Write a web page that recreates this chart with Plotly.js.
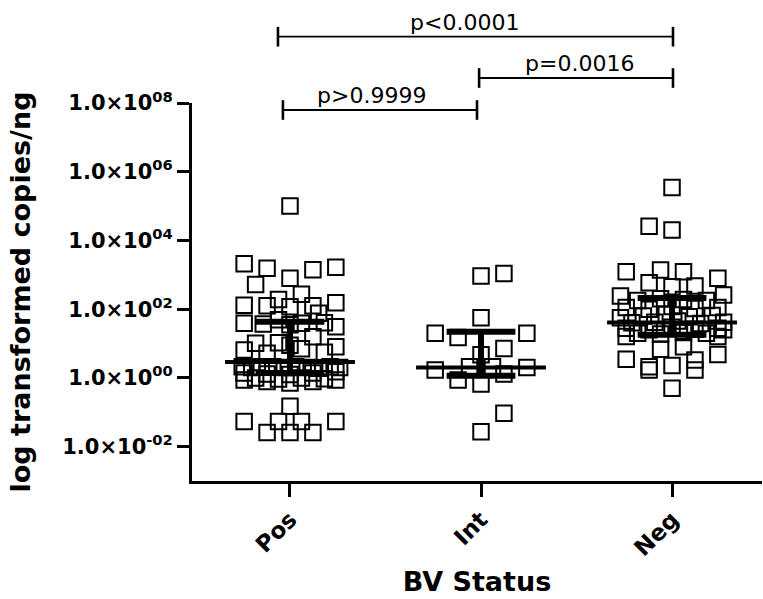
<!DOCTYPE html>
<html>
<head>
<meta charset="utf-8">
<script src="https://cdn.plot.ly/plotly-3.0.1.min.js"></script>
<style>html,body{margin:0;padding:0;background:#fff;}#chart{width:763px;height:599px;}</style>
</head>
<body>
<div id="chart"></div>
<script>
// ---- data ----
const groups = ['Pos', 'Int', 'Neg'];

// Pos: copies/ng and horizontal scatter offsets (category units)
const posValues = [1.0e5,
  2100, 1550, 1650, 1400, 800, 520, 270, 190,
  130, 125, 155, 125, 118, 76,
  39, 31, 37, 49, 39, 35, 40,
  10.2, 10.5, 15.8, 6.5, 8.1, 5.2, 8.9, 7.1, 5.6,
  2.1, 2.0, 2.1, 2.1, 2.0, 2.1, 2.0, 1.9, 2.1, 2.0,
  1.4, 1.3, 1.26, 1.4, 1.5,
  0.87, 0.79, 0.71, 0.79, 0.87, 1.0, 1.0, 0.95, 0.93,
  0.15, 0.054, 0.054, 0.054, 0.054, 0.026, 0.026, 0.026];
const posOffsets = [0,
  -0.24, -0.12, 0.24, 0.12, 0, -0.18, 0.06, -0.06,
  -0.24, -0.12, 0.24, 0.12, 0, 0.15,
  -0.24, 0.24, -0.14, -0.06, 0.06, 0, 0.18,
  -0.18, -0.06, 0.12, -0.24, 0.24, -0.12, 0, 0.06, 0.18,
  -0.25, -0.20, -0.15, -0.09, -0.03, 0.03, 0.09, 0.15, 0.21, 0.26,
  -0.24, -0.12, 0, 0.12, 0.24,
  -0.24, -0.12, 0, 0.12, 0.24, -0.18, 0.06, 0.18, -0.06,
  0, -0.06, 0.06, -0.24, 0.24, -0.12, 0, 0.12];

const intValues = [930, 1100, 56, 20, 15, 20, 7.2, 4.7, 1.7, 2.1, 2.1, 2.0, 0.87, 0.66, 1.3, 0.093, 0.027];
const intOffsets = [0, 0.12, 0, -0.24, -0.12, 0.24, 0.12, 0, -0.24, -0.06, 0.06, 0.24, -0.12, 0, 0.12, 0.12, 0];

const negValues = [3.5e5, 26000, 20000,
  1230, 1380, 1230, 800, 590, 450, 470, 240, 260,
  180, 200, 190, 180,
  112, 100, 120, 105, 112,
  56, 63, 71, 60, 66,
  40, 42, 45, 38, 42,
  28, 25, 30, 26, 28,
  20, 19, 21, 20,
  16, 16, 25,
  6.8, 8.1,
  3.5, 2.1, 1.7, 2.3, 3.3, 1.7, 4.8,
  0.5];
const negOffsets = [0, -0.12, 0,
  -0.24, -0.06, 0.06, 0.24, -0.12, 0, 0.12, -0.27, 0.27,
  -0.18, -0.06, 0.06, 0.18,
  -0.24, -0.12, 0, 0.12, 0.24,
  -0.27, -0.15, -0.03, 0.09, 0.21,
  -0.21, -0.09, 0.03, 0.15, 0.27,
  -0.24, -0.12, 0, 0.12, 0.24,
  -0.18, -0.06, 0.06, 0.18,
  -0.24, 0.24, 0.27,
  -0.06, 0.06,
  -0.24, -0.12, -0.12, 0, 0.12, 0.12, 0.24,
  0];

// summary: median and interquartile range
const medians = [2.9, 2.0, 41];
const q1s = [1.4, 1.15, 18];
const q3s = [43, 22, 210];

const yTickVals = [0.01, 1, 100, 1e4, 1e6, 1e8];
const yTickText = ['1.0×10<sup>-02</sup>', '1.0×10<sup>00</sup>', '1.0×10<sup>02</sup>',
                   '1.0×10<sup>04</sup>', '1.0×10<sup>06</sup>', '1.0×10<sup>08</sup>'];

const comparisons = [
  {label: 'p<0.0001', x0: -0.063, x1: 2.005, lx: 0.916, y: 1.1754, tick: 0.026},
  {label: 'p=0.0016', x0: 0.99, x1: 2.005, lx: 1.518, y: 1.0661, tick: 0.026},
  {label: 'p>0.9999', x0: -0.037, x1: 0.979, lx: 0.429, y: 0.9815, tick: 0.026}
];

// ---- build traces ----
const FONT = 'DejaVu Sans, Arial, sans-serif';
const seriesVals = [posValues, intValues, negValues];
const seriesOffs = [posOffsets, intOffsets, negOffsets];
const traces = [];
seriesVals.forEach((vals, gi) => {
  traces.push({
    type: 'scatter', mode: 'markers', name: groups[gi],
    x: seriesOffs[gi].map(o => gi + o), y: vals,
    marker: {symbol: 'square-open', size: 15.5, color: '#000', line: {width: 2, color: '#000'}},
    hoverinfo: 'y', showlegend: false
  });
});
const mx = [], my = [], ex = [], ey = [];
groups.forEach((g, i) => {
  mx.push(i - 0.34, i + 0.34, null); my.push(medians[i], medians[i], null);
  ex.push(i - 0.18, i + 0.18, null); ey.push(q3s[i], q3s[i], null);
  ex.push(i - 0.18, i + 0.18, null); ey.push(q1s[i], q1s[i], null);
  ex.push(i, i, null); ey.push(q1s[i], q3s[i], null);
});
traces.push({type: 'scatter', mode: 'lines', x: ex, y: ey, line: {color: '#000', width: 6}, showlegend: false, hoverinfo: 'skip'});
traces.push({type: 'scatter', mode: 'lines', x: mx, y: my, line: {color: '#000', width: 4}, showlegend: false, hoverinfo: 'skip'});

const shapes = [], annotations = [];
comparisons.forEach(c => {
  shapes.push({type: 'line', xref: 'x', yref: 'paper', x0: c.x0, x1: c.x1, y0: c.y, y1: c.y, line: {color: '#000', width: 1.8}});
  [c.x0, c.x1].forEach(x => shapes.push({type: 'line', xref: 'x', yref: 'paper', x0: x, x1: x, y0: c.y - c.tick, y1: c.y + c.tick, line: {color: '#000', width: 2.6}}));
  annotations.push({xref: 'x', yref: 'paper', x: c.lx, y: c.y, yanchor: 'bottom', yshift: 0,
    text: c.label, showarrow: false, font: {family: FONT, size: 22, color: '#000'}});
});

const layout = {
  width: 763, height: 599,
  margin: {l: 192, r: 1, t: 103, b: 118},
  paper_bgcolor: '#fff', plot_bgcolor: '#fff',
  showlegend: false,
  xaxis: {
    range: [-0.513, 2.471], tickvals: [0, 1, 2], ticktext: groups, tickangle: -45,
    ticks: 'outside', ticklen: 13, tickwidth: 3, tickcolor: '#000',
    showline: true, linewidth: 3, linecolor: '#000', showgrid: false, zeroline: false,
    tickfont: {family: FONT, size: 23, color: '#000', weight: 'bold'},
    title: {text: 'BV Status', font: {family: FONT, size: 27, color: '#000', weight: 'bold'}, standoff: 13}
  },
  yaxis: {
    type: 'log', range: [-3, 8], tickvals: yTickVals, ticktext: yTickText,
    ticks: 'outside', ticklen: 12, tickwidth: 3, tickcolor: '#000',
    showline: true, linewidth: 3, linecolor: '#000', showgrid: false, zeroline: false,
    tickfont: {family: FONT, size: 21, color: '#000', weight: 'bold'},
    title: {text: 'log transformed copies/ng', font: {family: FONT, size: 27, color: '#000', weight: 'bold'}, standoff: 24}
  },
  shapes: shapes,
  annotations: annotations
};

Plotly.newPlot('chart', traces, layout, {displayModeBar: false, staticPlot: true});
</script>
</body>
</html>
